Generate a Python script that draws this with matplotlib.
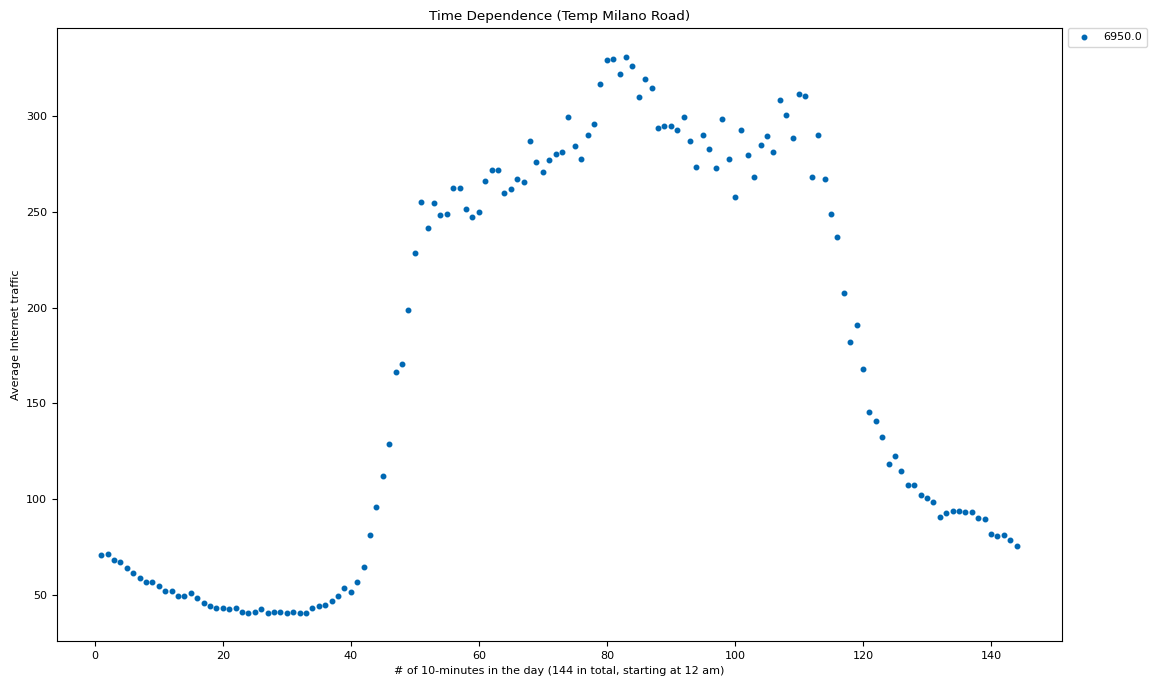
import matplotlib
matplotlib.use("Agg")
import matplotlib.pyplot as plt

# slot index (10-minute intervals) and mean traffic for square 6950
slots = list(range(1, 145))
traffic = [
    70.7, 71.4, 68.4, 67.4, 64.3, 61.3, 58.9, 56.6, 56.6, 54.9,
    51.9, 51.9, 49.6, 49.6, 50.9, 48.4, 46.0, 44.3, 43.1, 43.1,
    42.5, 43.2, 41.3, 40.8, 41.3, 42.7, 40.8, 41.3, 41.3, 40.8,
    41.3, 40.8, 40.8, 43.2, 44.3, 44.9, 46.7, 49.6, 53.8, 51.4,
    56.8, 64.5, 81.5, 96.1, 112.0, 129.0, 166.5, 170.7, 198.9, 228.8,
    255.3, 241.7, 254.8, 248.3, 248.9, 262.4, 262.4, 251.3, 247.1, 250.0,
    265.9, 271.8, 271.8, 260.0, 261.7, 267.1, 265.4, 287.1, 276.0, 270.6,
    277.0, 280.2, 281.2, 299.5, 284.2, 277.7, 290.1, 296.0, 316.7, 329.2,
    329.7, 322.0, 331.1, 326.0, 309.9, 319.5, 314.6, 293.6, 294.6, 294.6,
    293.0, 299.3, 287.1, 273.5, 290.0, 283.0, 273.0, 298.3, 277.7, 257.7,
    293.0, 279.5, 268.3, 284.7, 289.4, 281.2, 308.3, 300.5, 288.4, 311.8,
    310.6, 268.0, 290.0, 267.1, 248.9, 236.7, 207.8, 181.9, 190.8, 167.8,
    145.3, 140.8, 132.6, 118.4, 122.5, 114.9, 107.3, 107.3, 102.0, 100.8,
    98.4, 90.9, 92.6, 93.8, 93.8, 93.2, 93.2, 90.2, 89.7, 82.0,
    80.8, 81.5, 78.5, 75.6,
]
square_id = 6950.0

plt.rcParams["font.size"] = 8

fig = plt.figure(figsize=(11.56, 6.78), dpi=100)
ax = fig.add_axes([0.0493, 0.0546, 0.8694, 0.9041])

ax.plot(slots, traffic, ".", color="#0068b3", markersize=6.5, label=str(square_id))

ax.set_title("Time Dependence (Temp Milano Road)", fontsize=9.7)
ax.set_xlabel("# of 10-minutes in the day (144 in total, starting at 12 am)")
ax.set_ylabel("Average Internet traffic")
ax.set_xlim(-5.9, 151.1)
ax.set_ylim(26, 346)
ax.legend(loc="upper left", bbox_to_anchor=(1.006, 1.0), borderaxespad=0.0)

fig.savefig("out.png", dpi=100)
